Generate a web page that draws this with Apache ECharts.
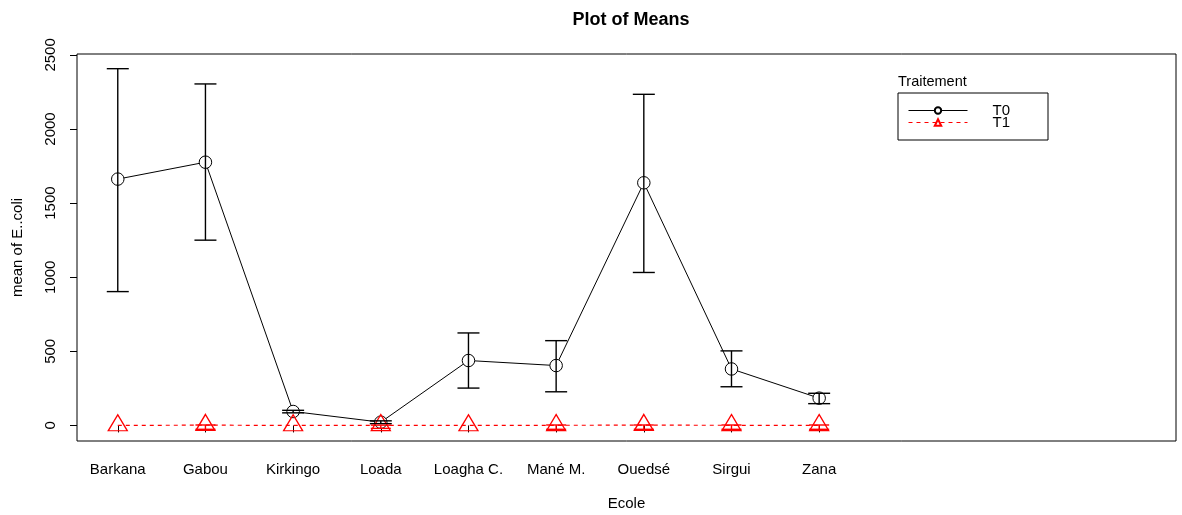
<!DOCTYPE html>
<html>
<head>
<meta charset="utf-8">
<script src="https://cdn.jsdelivr.net/npm/echarts@6/dist/echarts.min.js"></script>
<style>
  html, body { margin: 0; padding: 0; background: #fff; }
  #chart { width: 1182px; height: 515px; }
</style>
</head>
<body>
<div id="chart"></div>
<script>
// Schools (x categories)
const schools = ['Barkana', 'Gabou', 'Kirkingo', 'Loada', 'Loagha C.', 'Mané M.', 'Ouedsé', 'Sirgui', 'Zana'];

// Treatment T0: mean E. coli with error-bar bounds
const t0Mean  = [1662, 1776, 94, 22, 438, 404, 1637, 381, 184];
const t0Lower = [903, 1250, 85, 12, 252, 227, 1032, 261, 147];
const t0Upper = [2407, 2304, 102, 31, 624, 572, 2234, 503, 217];

// Treatment T1: mean E. coli with error-bar bounds (null = no visible bar)
const t1Mean  = [0, 2, 0, 1, 0, 1, 2, 1, 1];
const t1Lower = [null, -26, null, -20, null, -26, -26, -26, -26];
const t1Upper = [null, 3, null, 2, null, 3, 3, 3, 3];

// Tick values
const yTicks = [0, 500, 1000, 1500, 2000, 2500];
const xTicks = schools.map((_, i) => i + 1);

const FONT = "'Liberation Sans', Arial, sans-serif";

const t0Points = t0Mean.map((v, i) => [i + 1, v]);
const t1Points = t1Mean.map((v, i) => [i + 1, v]);
const t0Bars = t0Mean.map((_, i) => [i + 1, t0Lower[i], t0Upper[i]]);
const t1Bars = t1Mean.map((_, i) => [i + 1, t1Lower[i], t1Upper[i]])
                     .filter(d => d[1] !== null);

// Vertical error bar with flat caps
function errorBar(color, half) {
  return function (params, api) {
    const x = api.value(0);
    const lo = api.coord([x, api.value(1)]);
    const hi = api.coord([x, api.value(2)]);
    const style = { stroke: color, lineWidth: 1.4, fill: null };
    return {
      type: 'group',
      children: [
        { type: 'line', shape: { x1: hi[0], y1: hi[1], x2: lo[0], y2: lo[1] }, style },
        { type: 'line', shape: { x1: hi[0] - half, y1: hi[1], x2: hi[0] + half, y2: hi[1] }, style },
        { type: 'line', shape: { x1: lo[0] - half, y1: lo[1], x2: lo[0] + half, y2: lo[1] }, style }
      ]
    };
  };
}

const chart = echarts.init(document.getElementById('chart'), null, { renderer: 'canvas' });

chart.setOption({
  animation: false,
  backgroundColor: '#fff',
  textStyle: { fontFamily: FONT, color: '#000' },
  title: {
    text: 'Plot of Means',
    left: 626,
    top: 6,
    textAlign: 'center',
    textStyle: { fontFamily: FONT, fontSize: 18, fontWeight: 'bold', color: '#000' }
  },
  legend: {
    data: ['T0', 'T1'],
    orient: 'vertical',
    left: 898,
    top: 93,
    padding: [10, 38, 10, 10],
    itemWidth: 59,
    itemHeight: 8,
    itemGap: -3,
    borderColor: '#000',
    borderWidth: 1,
    borderRadius: 0,
    lineStyle: { width: 1 },
    textStyle: { fontFamily: FONT, fontSize: 15, color: '#000', lineHeight: 12, padding: [0, 0, 0, 20] }
  },
  graphic: [{
    type: 'text',
    left: 898,
    top: 74,
    style: { text: 'Traitement', font: '14.5px ' + FONT, fill: '#000' }
  }],
  grid: {
    left: 77, right: 6, top: 54, bottom: 74,
    outerBoundsMode: 'none',
    containLabel: false,
    show: true, borderColor: '#000', borderWidth: 1, backgroundColor: 'transparent'
  },
  xAxis: {
    type: 'value',
    min: 0.535,
    max: 13.07,
    name: 'Ecole',
    nameLocation: 'middle',
    nameGap: 55,
    nameTextStyle: { fontFamily: FONT, fontSize: 15, color: '#000' },
    axisLine: { show: false },
    splitLine: { show: false },
    axisTick: { show: true, inside: false, length: 7, lineStyle: { color: '#000' }, customValues: xTicks },
    axisLabel: {
      margin: 21,
      fontSize: 15, color: '#000', fontFamily: FONT,
      customValues: xTicks,
      formatter: v => schools[Math.round(v) - 1] || ''
    }
  },
  yAxis: {
    type: 'value',
    min: -105,
    max: 2506,
    name: 'mean of E..coli',
    nameLocation: 'middle',
    nameGap: 52,
    nameRotate: 90,
    nameTextStyle: { fontFamily: FONT, fontSize: 15, color: '#000' },
    axisLine: { show: false },
    splitLine: { show: false },
    axisTick: { show: true, inside: false, length: 7, lineStyle: { color: '#000' }, customValues: yTicks },
    axisLabel: {
      rotate: 90,
      margin: 19,
      fontSize: 15, color: '#000', fontFamily: FONT,
      customValues: yTicks,
      formatter: v => String(v)
    }
  },
  series: [
    {
      name: 'T0',
      type: 'line',
      data: t0Points,
      symbol: 'circle',
      symbolSize: 12.5,
      itemStyle: { color: '#fff', borderColor: '#000', borderWidth: 1 },
      lineStyle: { color: '#000', width: 1 },
      z: 2
    },
    {
      name: 'T1',
      type: 'line',
      data: t1Points,
      symbol: 'triangle',
      symbolSize: [19, 16],
      symbolOffset: [0, -2.7],
      itemStyle: { color: 'rgba(0,0,0,0)', borderColor: '#ff0000', borderWidth: 1.3 },
      lineStyle: { color: '#ff0000', width: 1.2, type: [4, 4] },
      z: 2
    },
    {
      name: 'T0 bars',
      type: 'custom',
      data: t0Bars,
      renderItem: errorBar('#000', 11),
      encode: { x: 0, y: [1, 2] },
      z: 3
    },
    {
      name: 'T1 bars',
      type: 'custom',
      data: t1Bars,
      renderItem: errorBar('#ff0000', 10),
      encode: { x: 0, y: [1, 2] },
      z: 3
    }
  ]
});
</script>
</body>
</html>
